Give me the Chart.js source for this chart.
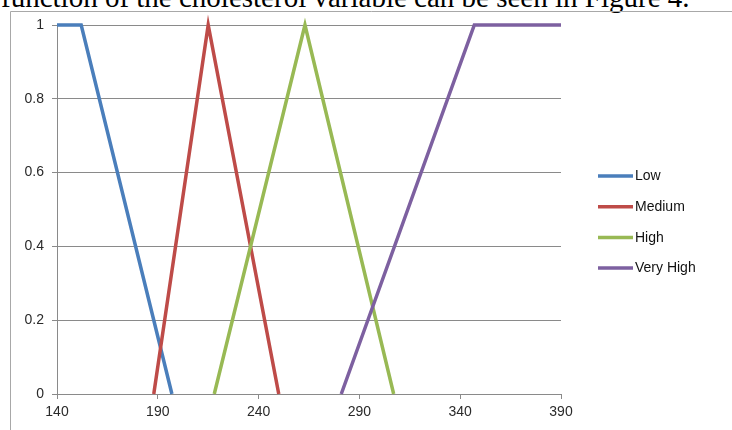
<!DOCTYPE html>
<html>
<head>
<meta charset="utf-8">
<script src="https://cdn.jsdelivr.net/npm/chart.js@4"></script>
<style>
  html, body { margin: 0; padding: 0; background: #fff; overflow: hidden; }
  #wrap { position: relative; width: 732px; height: 430px; overflow: hidden; }
  #caption {
    position: absolute; left: 1px; top: -17px;
    font: 29px "Liberation Serif", "Times New Roman", serif;
    line-height: 29px; white-space: nowrap; color: #000;
  }
  #c { position: absolute; left: 0; top: 0; }
</style>
</head>
<body>
<div id="wrap">
  <div id="caption">function of the cholesterol variable can be seen in Figure 4.</div>
  <canvas id="c" width="732" height="430"></canvas>
</div>
<script>
// Membership functions for the cholesterol variable (mg/dL -> degree of membership)
const seriesNames = ['Low', 'Medium', 'High', 'Very High'];
const lowX = [140, 152, 197];
const lowY = [1, 1, 0];
const mediumX = [188, 215, 250];
const mediumY = [0, 1, 0];
const highX = [218, 263, 307];
const highY = [0, 1, 0];
const veryHighX = [281, 347, 390];
const veryHighY = [0, 1, 1];
const xTicks = [140, 190, 240, 290, 340, 390];
const yTicks = [0, 0.2, 0.4, 0.6, 0.8, 1];
const yTickLabels = ['0', '0.2', '0.4', '0.6', '0.8', '1'];

const colors = ['#4A7EBB', '#BE4B48', '#98B954', '#7D60A0'];
const xs = [lowX, mediumX, highX, veryHighX];
const ys = [lowY, mediumY, highY, veryHighY];

const datasets = seriesNames.map((name, i) => ({
  label: name,
  data: xs[i].map((x, k) => ({ x: x, y: ys[i][k] })),
  showLine: true,
  borderColor: colors[i],
  backgroundColor: colors[i],
  borderWidth: 3.5,
  pointRadius: 0,
  tension: 0,
  clip: false,
  order: seriesNames.length - i
}));

const gridColor = '#8a8a8a';
const tickFont = { family: '"Liberation Sans", Arial, sans-serif', size: 14 };

// Outer chart frame (left and top edges)
const framePlugin = {
  id: 'frame',
  beforeDraw(chart) {
    const ctx = chart.ctx;
    ctx.save();
    ctx.strokeStyle = '#a8a8a8';
    ctx.lineWidth = 1;
    ctx.beginPath();
    ctx.moveTo(10.5, chart.height);
    ctx.lineTo(10.5, 11.5);
    ctx.lineTo(chart.width, 11.5);
    ctx.stroke();
    ctx.restore();
  }
};

// Legend drawn as a column at the right side
const legendPlugin = {
  id: 'sideLegend',
  afterDraw(chart) {
    const ctx = chart.ctx;
    ctx.save();
    chart.data.datasets.forEach((ds, i) => {
      const y = 176 + i * 30.7;
      ctx.strokeStyle = ds.borderColor;
      ctx.lineWidth = 3.5;
      ctx.beginPath();
      ctx.moveTo(598, y);
      ctx.lineTo(633, y);
      ctx.stroke();
      ctx.fillStyle = '#111';
      ctx.font = '14px "Liberation Sans", Arial, sans-serif';
      ctx.textBaseline = 'middle';
      ctx.textAlign = 'left';
      ctx.fillText(ds.label, 635, y + 0.5);
    });
    ctx.restore();
  }
};

new Chart(document.getElementById('c'), {
  type: 'scatter',
  data: { datasets: datasets },
  options: {
    responsive: false,
    animation: false,
    devicePixelRatio: 1,
    layout: { padding: { left: 10, right: 171, top: 25, bottom: 0 } },
    plugins: { legend: { display: false }, tooltip: { enabled: false } },
    scales: {
      x: {
        type: 'linear',
        min: xTicks[0],
        max: xTicks[xTicks.length - 1],
        afterBuildTicks(scale) { scale.ticks = xTicks.map(v => ({ value: v })); },
        afterFit(scale) { scale.height = 36; },
        ticks: { color: '#2a2a2a', font: tickFont, padding: 5, maxRotation: 0 },
        grid: { drawOnChartArea: false, drawTicks: true, tickLength: 5, color: gridColor },
        border: { color: gridColor, width: 1 }
      },
      y: {
        min: yTicks[0],
        max: yTicks[yTicks.length - 1],
        afterBuildTicks(scale) { scale.ticks = yTicks.map(v => ({ value: v })); },
        afterFit(scale) { scale.width = 47; },
        ticks: {
          color: '#2a2a2a', font: tickFont, padding: 8,
          callback: (v) => yTickLabels[yTicks.indexOf(v)] ?? String(v)
        },
        grid: { color: gridColor, tickLength: 5, lineWidth: 1 },
        border: { color: gridColor, width: 1 }
      }
    }
  },
  plugins: [framePlugin, legendPlugin]
});
</script>
</body>
</html>
